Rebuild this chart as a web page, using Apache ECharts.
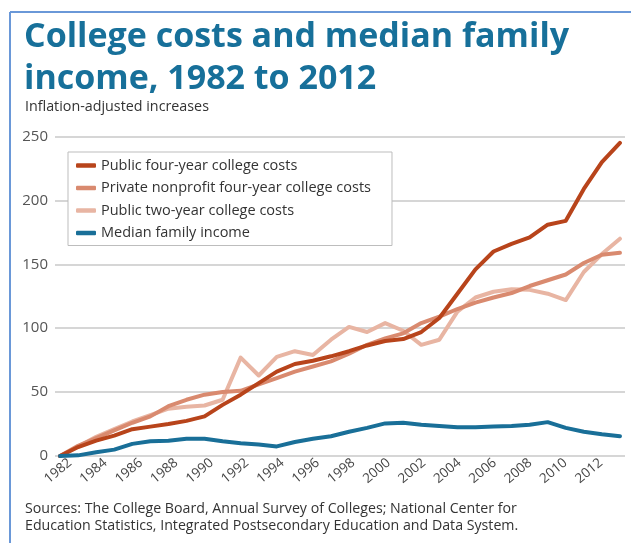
<!DOCTYPE html>
<html>
<head>
<meta charset="utf-8">
<style>
  html, body { margin: 0; padding: 0; background: #ffffff; }
  #chart { width: 631px; height: 543px; }
</style>
<script src="https://cdn.jsdelivr.net/npm/echarts@6/dist/echarts.min.js"></script>
</head>
<body>
<div id="chart"></div>
<script>
// Years covered by every series
const years = [1982, 1983, 1984, 1985, 1986, 1987, 1988, 1989, 1990, 1991,
  1992, 1993, 1994, 1995, 1996, 1997, 1998, 1999, 2000, 2001,
  2002, 2003, 2004, 2005, 2006, 2007, 2008, 2009, 2010, 2011,
  2012, 2013];

// Cumulative inflation-adjusted increase since 1982, in percent
const publicFourYear = [0, 7, 12, 16, 21, 23, 25, 27.5, 31, 40,
  48, 57, 66, 72, 74.5, 78, 82, 86.5, 90, 91.5,
  97, 108, 127, 146, 160, 166, 171, 181, 184, 209,
  230, 245];
const privateNonprofit = [0, 8, 14, 20, 26, 31, 39, 44, 48, 50,
  51, 56, 61, 66, 70, 74, 80, 87, 92, 96,
  104, 109, 115, 120, 124, 127.5, 133, 137.5, 142, 151,
  157.5, 159];
const publicTwoYear = [0, 7.5, 15, 21, 27, 32, 37, 38.5, 39.5, 44,
  77, 63, 77.5, 82, 79, 91, 101, 97, 104, 98,
  87, 91, 113, 124, 128.5, 130.5, 130, 127, 122, 144,
  158, 170];
const medianIncome = [0, 0.5, 3, 5, 9.5, 11.5, 12, 13.5, 13.5, 11.5,
  10, 9, 7.5, 11, 13.5, 15.5, 19, 22, 25.5, 26,
  24.5, 23.5, 22.5, 22.5, 23, 23.5, 24.5, 26.5, 22, 19,
  17, 15.5];

// Axis labels
const xTickYears = [1982, 1984, 1986, 1988, 1990, 1992, 1994, 1996,
  1998, 2000, 2002, 2004, 2006, 2008, 2010, 2012];
const yTicks = [0, 50, 100, 150, 200, 250];

const seriesNames = [
  'Public four-year college costs',
  'Private nonprofit four-year college costs',
  'Public two-year college costs',
  'Median family income'
];
const seriesColors = ['#b8441b', '#d98a6f', '#e8b5a3', '#196f98'];

const pairs = vals => years.map((y, i) => [y, vals[i]]);

const FONT = '"Open Sans", "DejaVu Sans", sans-serif';

const chart = echarts.init(document.getElementById('chart'), null, { renderer: 'canvas' });

function lineSeries(name, color, vals, z) {
  return {
    name: name,
    type: 'line',
    xAxisIndex: 0,
    yAxisIndex: 0,
    data: pairs(vals),
    showSymbol: false,
    symbol: 'none',
    smooth: false,
    z: z,
    lineStyle: { color: color, width: 4, cap: 'round', join: 'round' },
    itemStyle: { color: color },
    emphasis: { disabled: true }
  };
}

chart.setOption({
  animation: false,
  backgroundColor: '#ffffff',
  textStyle: { fontFamily: FONT },
  title: [
    {
      text: 'College costs and median family\nincome, 1982 to 2012',
      left: 24,
      top: 16,
      padding: 0,
      textStyle: {
        fontFamily: FONT,
        fontSize: 34,
        fontWeight: 'bold',
        color: '#17709a',
        lineHeight: 42
      }
    },
    {
      text: 'Inflation-adjusted increases',
      left: 25,
      top: 98,
      padding: 0,
      textStyle: { fontFamily: FONT, fontSize: 14.3, fontWeight: 'normal', color: '#333333', lineHeight: 18 }
    },
    {
      text: 'Sources: The College Board, Annual Survey of Colleges; National Center for\nEducation Statistics, Integrated Postsecondary Education and Data System.',
      left: 25,
      top: 500,
      padding: 0,
      textStyle: { fontFamily: FONT, fontSize: 14.2, fontWeight: 'normal', color: '#333333', lineHeight: 17.5 }
    }
  ],
  legend: {
    orient: 'vertical',
    left: 68,
    top: 152,
    data: seriesNames,
    icon: 'roundRect',
    itemWidth: 20,
    itemHeight: 4.5,
    itemGap: 7.5,
    padding: [6, 21, 5, 8],
    backgroundColor: '#ffffff',
    borderColor: '#bdbdbd',
    borderWidth: 1,
    selectedMode: false,
    textStyle: { fontFamily: FONT, fontSize: 14.5, color: '#333333', lineHeight: 15 },
    z: 10
  },
  grid: { left: 55, right: 6, top: 136.5, bottom: 87, containLabel: false },
  xAxis: [
    {
      // data axis: carries the plotted points
      type: 'value',
      min: 1981.72,
      max: 2013.28,
      axisLine: { show: false },
      axisTick: { show: false },
      axisLabel: { show: false },
      splitLine: { show: false }
    },
    {
      // year labels along the bottom
      type: 'value',
      position: 'bottom',
      min: 1981.15,
      max: 2013.36,
      axisLine: { show: false },
      axisTick: { show: false },
      splitLine: { show: false },
      axisLabel: {
        customValues: xTickYears,
        formatter: v => String(v),
        rotate: 40,
        margin: 5,
        fontFamily: FONT,
        fontSize: 13.5,
        color: '#444444'
      }
    }
  ],
  yAxis: {
    type: 'value',
    min: yTicks[0],
    max: yTicks[yTicks.length - 1],
    interval: 50,
    axisLine: { show: false },
    axisTick: { show: false },
    axisLabel: { margin: 7, fontFamily: FONT, fontSize: 15, color: '#555555' },
    splitLine: { lineStyle: { color: '#c8c8c8', width: 1.5 } }
  },
  graphic: [
    { type: 'line', shape: { x1: 10, y1: 12, x2: 631, y2: 12 }, style: { stroke: '#6a98d8', lineWidth: 2 }, z: 100 },
    { type: 'line', shape: { x1: 10, y1: 12, x2: 10, y2: 543 }, style: { stroke: '#6a98d8', lineWidth: 2 }, z: 100 }
  ],
  series: [
    lineSeries(seriesNames[2], seriesColors[2], publicTwoYear, 2),
    lineSeries(seriesNames[1], seriesColors[1], privateNonprofit, 3),
    lineSeries(seriesNames[0], seriesColors[0], publicFourYear, 4),
    lineSeries(seriesNames[3], seriesColors[3], medianIncome, 5)
  ]
});
</script>
</body>
</html>
